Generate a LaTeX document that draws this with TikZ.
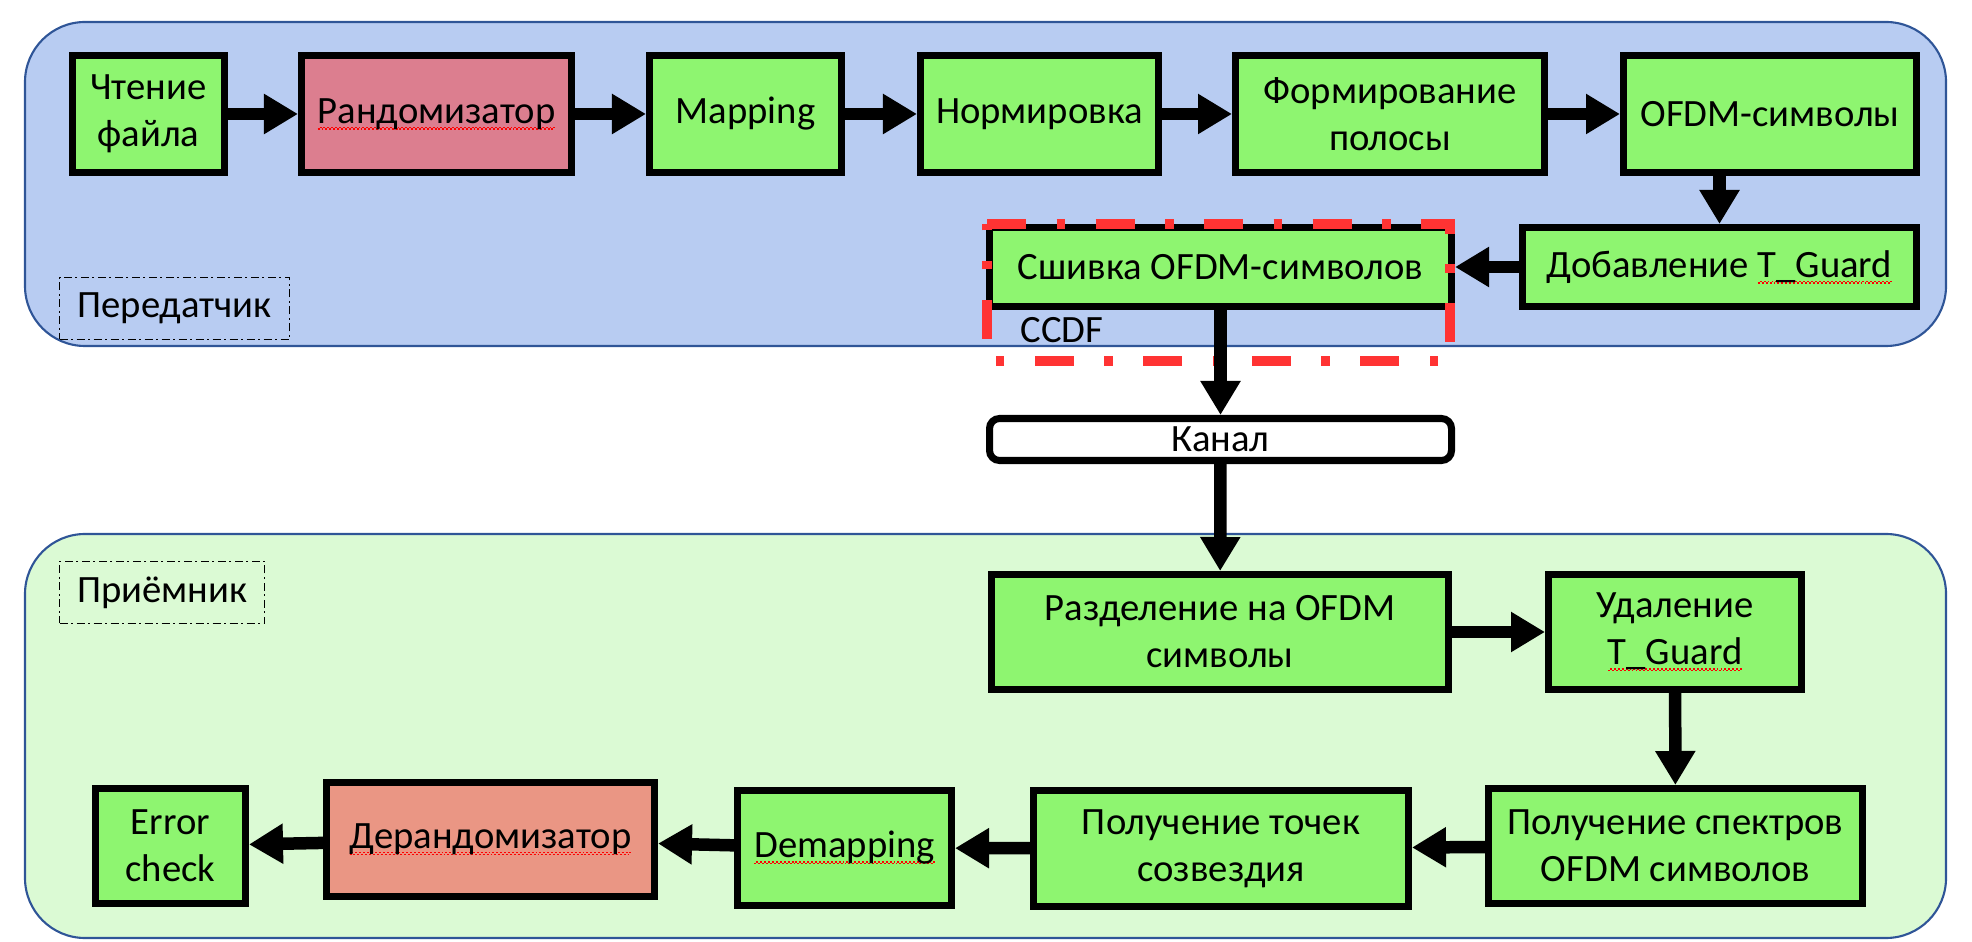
\documentclass[tikz,border=0pt]{standalone}
\usepackage{fontspec}
\setmainfont{Carlito}
\usetikzlibrary{arrows.meta}

\definecolor{txfill}{RGB}{184,204,242}
\definecolor{rxfill}{RGB}{219,250,212}
\definecolor{zoneline}{RGB}{47,85,151}
\definecolor{blockgreen}{RGB}{142,245,112}
\definecolor{randpink}{RGB}{220,126,143}
\definecolor{derandred}{RGB}{234,150,132}
\definecolor{ccdfred}{RGB}{255,51,51}

% red spell-check wave under a word
\newcommand*{\typo}[1]{\setbox0\hbox{#1}\rlap{\color{red}\lower1.6pt\hbox to\wd0{\xleaders\hbox{\vrule width0.55pt height0.2pt depth0.2pt\raise0.45pt\hbox{\vrule width0.55pt height0.2pt depth0.2pt}}\hfill}}\box0}

\newcommand*{\xleft}{0.25}
\newcommand*{\xright}{19.46}

\tikzset{
	block/.style={draw, line width=2pt, fill=blockgreen, align=center, inner sep=0pt,
		font=\fontsize{11}{13.4}\selectfont},
	sidetag/.style={draw, line width=0.5pt, dash pattern=on 0.8mm off 0.35mm on 0.2mm off 0.35mm,
		inner sep=0pt, font=\fontsize{11}{13.4}\selectfont},
	zone/.style={draw=zoneline, line width=0.6pt, rounded corners=0.6cm},
	flow/.style={-{Triangle[width=3.8mm,length=3.4mm]}, line width=1.25mm}
}

\begin{document}
\begin{tikzpicture}

	\useasboundingbox (0,0) rectangle (19.72,-9.42);

	% transmitter and receiver areas
	\fill[txfill, zone] (\xleft,-0.22) rectangle (\xright,-3.46);
	\fill[rxfill, zone] (\xleft,-5.34) rectangle (\xright,-9.38);

	\node[sidetag, minimum width=2.30cm, minimum height=0.62cm] (tx) at (1.745,-3.085) {Передатчик};
	\node[sidetag, minimum width=2.05cm, minimum height=0.62cm] (rx) at (1.62,-5.925) {Приёмник};

	% transmitter
	\node[block, minimum width=1.52cm, minimum height=1.17cm] (read) at (1.485,-1.14) {Чтение\\файла};
	\node[block, fill=randpink, minimum width=2.70cm, minimum height=1.17cm] (rand) at (4.365,-1.14) {\typo{Рандомизатор}};
	\node[block, minimum width=1.92cm, minimum height=1.17cm] (map) at (7.455,-1.14) {Mapping};
	\node[block, minimum width=2.38cm, minimum height=1.17cm] (norm) at (10.395,-1.14) {Нормировка};
	\node[block, minimum width=3.09cm, minimum height=1.17cm] (band) at (13.90,-1.14) {Формирование\\полосы};
	\node[block, minimum width=2.93cm, minimum height=1.17cm] (ofdm) at (17.70,-1.14) {OFDM-символы};

	\node[block, minimum width=3.94cm, minimum height=0.79cm] (addg) at (17.195,-2.67) {Добавление \typo{T\_Guard}};
	\node[block, minimum width=4.62cm, minimum height=0.79cm] (sew) at (12.205,-2.67) {Сшивка OFDM-символов};

	% CCDF measuring point
	\node[anchor=base west, inner sep=0pt, font=\fontsize{11}{13.4}\selectfont] (ccdf) at (10.20,-3.43) {CCDF};
	\draw[ccdfred, line width=1mm, dash pattern=on 3.9mm off 3.05mm on 0.85mm off 3.05mm]
		(9.87,-2.24) -- (14.50,-2.24) -- (14.50,-3.61) -- (9.87,-3.61) -- cycle;

	% channel
	\node[block, fill=white, rounded corners=1mm, minimum width=4.62cm, minimum height=0.42cm] (chan) at (12.205,-4.395) {Канал};

	% receiver
	\node[block, minimum width=4.57cm, minimum height=1.15cm] (split) at (12.20,-6.32) {Разделение на OFDM\\символы};
	\node[block, minimum width=2.53cm, minimum height=1.15cm] (remg) at (16.75,-6.32) {Удаление\\\typo{T\_Guard}};

	\node[block, minimum width=3.74cm, minimum height=1.15cm] (spec) at (16.755,-8.46) {Получение спектров\\OFDM символов};
	\node[block, minimum width=3.75cm, minimum height=1.16cm] (pts) at (12.21,-8.485) {Получение точек\\созвездия};
	\node[block, minimum width=2.14cm, minimum height=1.15cm] (demap) at (8.445,-8.48) {\typo{Demapping}};
	\node[block, fill=derandred, minimum width=3.28cm, minimum height=1.14cm] (derand) at (4.905,-8.395) {\typo{Дерандомизатор}};
	\node[block, minimum width=1.50cm, minimum height=1.15cm] (errc) at (1.705,-8.46) {Error\\check};

	% arrows
	\draw[flow] (read) -- (rand);
	\draw[flow] (rand) -- (map);
	\draw[flow] (map) -- (norm);
	\draw[flow] (norm) -- (band);
	\draw[flow] (band) -- (ofdm);
	\draw[flow] (ofdm.south -| addg.north) -- (addg.north);
	\draw[flow] (addg) -- (sew);
	\draw[flow] (sew) -- (chan);
	\draw[flow] (chan) -- (split);
	\draw[flow] (split) -- (remg);
	\draw[flow] (remg) -- (spec);
	\draw[flow] (spec) -- (pts);
	\draw[flow] (pts) -- (demap);
	\draw[flow] (demap) -- (derand);
	\draw[flow] (derand) -- (errc);

\end{tikzpicture}
\end{document}
